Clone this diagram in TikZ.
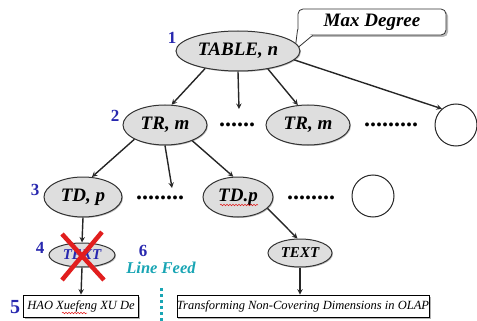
\documentclass[tikz,border=0pt]{standalone}
\usepackage{fontspec}
\setmainfont{Liberation Serif}
\usepackage{xcolor}
\usetikzlibrary{shapes.geometric,shadows,decorations.pathmorphing}
\definecolor{nodegray}{RGB}{222,222,222}
\definecolor{lblue}{RGB}{40,40,175}
\definecolor{feedteal}{RGB}{25,165,180}
\definecolor{xred}{RGB}{225,30,30}

\begin{document}
\begin{tikzpicture}[
  x=1pt, y=-1pt,
  oval/.style={ellipse,draw=black!80,fill=nodegray,line width=1pt,inner sep=0pt,font=\fontsize{19}{21}\selectfont\bfseries\itshape,drop shadow={shadow xshift=1pt,shadow yshift=-1pt,fill=black!50}},
  smalloval/.style={oval,font=\fontsize{15}{17}\selectfont\bfseries\itshape},
  blank/.style={circle,draw=black!85,fill=white,line width=1pt,minimum size=42pt,inner sep=0pt},
  leaf/.style={rectangle,draw=black,fill=white,line width=0.8pt,inner sep=0pt,minimum height=22pt,font=\fontsize{12.5}{14}\selectfont\itshape,drop shadow={shadow xshift=1.5pt,shadow yshift=-1.5pt,fill=black!60}},
  note/.style={rectangle,rounded corners=5pt,draw=black!80,fill=white,line width=0.8pt,font=\fontsize{19}{21}\selectfont\bfseries\itshape,drop shadow={shadow xshift=2pt,shadow yshift=-2pt,fill=black!55}},
  more/.style={inner sep=0pt,font=\fontsize{24}{24}\selectfont\bfseries},
  lvl/.style={text=lblue,inner sep=0pt,font=\fontsize{17}{17}\selectfont\bfseries},
  arr/.style={->,>=stealth,line width=1.4pt,black!85},
  squiggle/.style={xred,line width=0.5pt,decorate,decoration={snake,amplitude=0.8pt,segment length=3pt}},
  baseline=(current bounding box.north)
]
  \useasboundingbox (0,0) rectangle (477,321);
  \node[note,minimum width=148pt,minimum height=26pt] (maxdeg) at (372,22) {Max Degree};
  \coordinate (maxptr) at (295,50);
  \fill[white] ([yshift=6pt]maxdeg.south west) -- (maxptr) -- ([xshift=15pt]maxdeg.south west) -- cycle;
  \draw[black!80,line width=0.8pt] ([yshift=6pt]maxdeg.south west) -- (maxptr) -- ([xshift=15pt]maxdeg.south west);
  \node[oval,minimum width=124pt,minimum height=40pt] (table) at (238,51) {TABLE, \textit{n}};
  \node[oval,minimum width=84pt,minimum height=40pt] (tr1) at (165,125) {TR, m};
  \node[more] (dots1) at (237,125) {......};
  \node[oval,minimum width=84pt,minimum height=40pt] (tr2) at (308,125) {TR, m};
  \node[more] (dots2) at (391,125) {.........};
  \node[blank] (circ1) at (456,125) {};
  \node[oval,minimum width=78pt,minimum height=40pt] (td1) at (83,197) {TD, p};
  \node[more] (dots3) at (160,198) {........};
  \node[oval,minimum width=70pt,minimum height=40pt] (td2) at (238,197) {TD.p};
  \node[more] (dots4) at (311,198) {........};
  \node[blank] (circ2) at (373,196) {};
  \node[smalloval,minimum width=66pt,minimum height=24pt,text=lblue] (text1) at (82,255) {TEXT};
  \node[smalloval,minimum width=64pt,minimum height=28pt] (text2) at (300,253) {TEXT};
  \node[leaf,minimum width=115pt] (box1) at (81,306) {HAO Xuefeng XU De};
  \node[leaf,minimum width=250pt] (box2) at (303,306) {Transforming Non-Covering Dimensions in OLAP};
  \node[lvl] (l1) at (172,38) {1};
  \node[lvl] (l2) at (115,116) {2};
  \node[lvl] (l3) at (35,190) {3};
  \node[lvl] (l4) at (40,248) {4};
  \node[lvl,font=\fontsize{20}{20}\selectfont\bfseries] (l5) at (15,307) {5};
  \node[lvl] (l6) at (143,251) {6};
  \node[text=feedteal,inner sep=0pt,font=\fontsize{16.5}{18}\selectfont\bfseries\itshape] (feed) at (161,268) {Line Feed};
  \coordinate (gap1) at (239,109);
  \coordinate (gap2) at (172,188);
  \coordinate (feedtop) at (161,288);
  \coordinate (feedbot) at (161,321);
  \draw[arr] (table.208) -- (tr1.72);
  \draw[arr] (table.south) -- (gap1);
  \draw[arr] (table.329) -- (tr2.117);
  \draw[arr] (table.351) -- (circ1.131);
  \draw[arr] (tr1.205) -- (td1.66);
  \draw[arr] (tr1.south) -- (gap2);
  \draw[arr] (tr1.330) -- (td2.103);
  \draw[arr] (td1.south) -- (text1.north);
  \draw[arr] (td2.339) -- (text2.100);
  \draw[arr] (text1.south) -- (box1.north);
  \draw[arr] (text2.south) -- (text2.south |- box2.north);
  \draw[feedteal,line width=3pt,dash pattern=on 3pt off 3pt] (feedtop) -- (feedbot);
  \draw[xred,line width=4.5pt] (62,234) -- (104,280);
  \draw[xred,line width=4.5pt] (102,232) -- (62,280);
  \draw[squiggle] (220,205) -- (258,205);
  \draw[squiggle] (62,313) -- (87,313);
\end{tikzpicture}
\end{document}
